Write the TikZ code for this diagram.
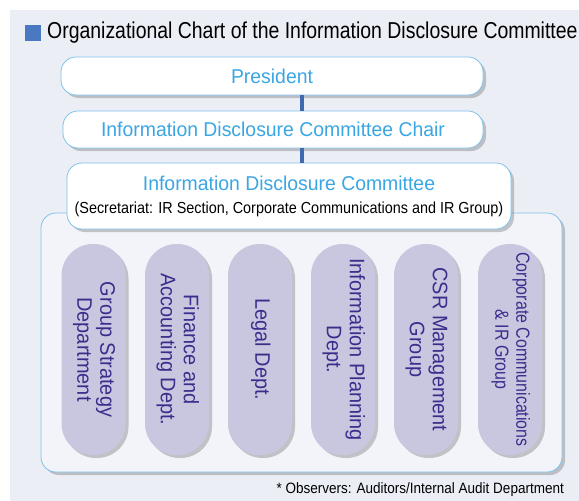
\documentclass[tikz,border=0pt]{standalone}
\usepackage{fontspec}
\setmainfont{Liberation Sans}
\newfontfamily\ctitle[FakeStretch=0.845]{Liberation Sans}
\newfontfamily\cbox[FakeStretch=0.97]{Liberation Sans}
\newfontfamily\csub[FakeStretch=0.9]{Liberation Sans}
\newfontfamily\cpill[FakeStretch=0.95]{Liberation Sans}
\newfontfamily\cpillb[FakeStretch=0.84]{Liberation Sans}
\usetikzlibrary{shadows}
\definecolor{bgc}{HTML}{EBEEF5}
\definecolor{contc}{HTML}{F3F4F9}
\definecolor{bordc}{HTML}{7EC3EC}
\definecolor{boxtxt}{HTML}{3AA6E4}
\definecolor{connc}{HTML}{3E6BB0}
\definecolor{sqc}{HTML}{4A78C2}
\definecolor{pillc}{HTML}{C9C7E0}
\definecolor{pilltxt}{HTML}{3A2E8C}
\tikzset{
  shd/.style={drop shadow={shadow xshift=3pt,shadow yshift=-3pt,opacity=0.35,fill=black!60}},
  topbox/.style={draw=bordc,line width=0.8pt,fill=white,rounded corners=15pt,shd,
    text=boxtxt,font=\cbox\fontsize{20}{24}\selectfont,inner sep=0pt},
  pill/.style={fill=pillc,rounded corners=31.5pt,shd,minimum width=64pt,minimum height=211pt,
    inner sep=0pt,text=pilltxt,font=\cpill\fontsize{21}{23}\selectfont},
  conn/.style={draw=connc,line width=4pt},
}
\newcommand{\pl}[1]{\rotatebox{-90}{\begin{tabular}{@{}c@{}}#1\end{tabular}}}
\begin{document}
\begin{tikzpicture}[x=1pt,y=-1pt]
\useasboundingbox (0,0) rectangle (579,501);
\fill[bgc] (10,10) rectangle (579,501);
% title
\node[fill=sqc,minimum width=16pt,minimum height=16pt,inner sep=0pt] (sq) at (33,33) {};
\node[anchor=west,inner sep=0pt,font=\ctitle\fontsize{23}{26}\selectfont] (title) at (47,33) {Organizational Chart of the Information Disclosure Committee};
% container
\node[draw=bordc,line width=0.8pt,fill=contc,rounded corners=15pt,shd,
  minimum width=521pt,minimum height=259pt,inner sep=0pt] (cont) at (301.5,342.5) {};
% top boxes
\node[topbox,minimum width=422pt,minimum height=38pt] (pres) at (272,76) {President};
\node[topbox,minimum width=420pt,minimum height=37pt] (chair) at (273,129.5) {Information Disclosure Committee Chair};
\node[topbox,minimum width=444pt,minimum height=66pt,align=center] (comm) at (289,196)
  {Information Disclosure Committee\\[-1pt]{\color{black}\csub\fontsize{16}{19}\selectfont (Secretariat: IR Section, Corporate Communications and IR Group)}};
\coordinate (bar) at (302,0);
\draw[conn] (pres.south -| bar) -- (chair.north -| bar);
\draw[conn] (chair.south -| bar) -- (comm.north -| bar);
% pills
\node[pill] (p1) at (93.5,349.5) {\pl{Group Strategy\\Department}};
\node[pill] (p2) at (177,349.5) {\pl{Finance and\\Accounting Dept.}};
\node[pill] (p3) at (260,349.5) {\pl{Legal Dept.}};
\node[pill] (p4) at (343,349.5) {\pl{Information Planning\\Dept.}};
\node[pill] (p5) at (426,349.5) {\pl{CSR Management\\Group}};
\node[pill,font=\cpillb\fontsize{19}{21}\selectfont] (p6) at (510,349.5) {\pl{Corporate Communications\\\& IR Group}};
% footnote
\node[anchor=east,inner sep=0pt,font=\csub\fontsize{15}{17}\selectfont] (foot) at (564,490) {* Observers: Auditors/Internal Audit Department};
\end{tikzpicture}
\end{document}
